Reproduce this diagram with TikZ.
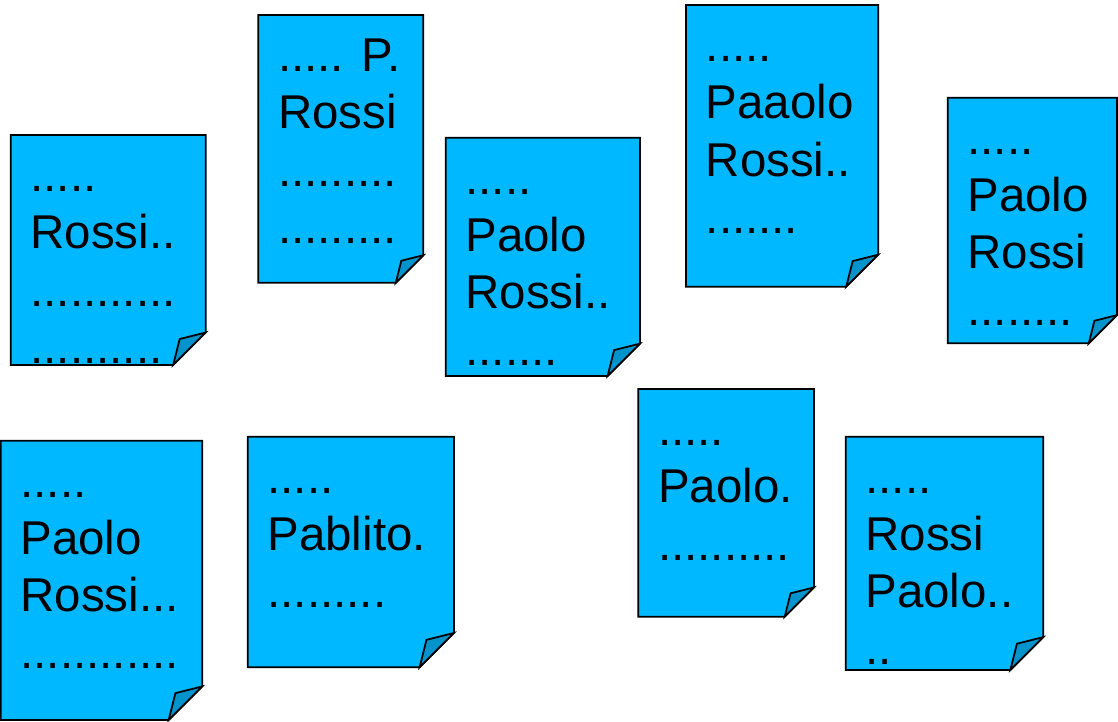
\documentclass[tikz,border=0pt]{standalone}
\usepackage{fontspec}
\setmainfont{Liberation Sans}
\definecolor{paperblue}{HTML}{00B8FF}
\definecolor{flapblue}{HTML}{0093CC}
% page with folded corner: name, left, top, right, bottom, text
\newcommand{\folddoc}[6]{%
  \pgfmathsetmacro{\docfold}{min(#4-#2,#5-#3)/6}%
  \pgfmathsetmacro{\docflapsz}{\docfold/5}%
  \draw[docpaper] (#2,#3) -- (#4,#3) -- (#4,#5-\docfold) -- (#4-\docfold,#5) -- (#2,#5) -- cycle;
  \draw[docflap] (#4-\docfold,#5) -- (#4-\docfold+\docflapsz,#5-\docfold+\docflapsz) -- (#4,#5-\docfold) -- cycle;
  \node[doctext] (#1) at (#2+19.5,#3+21.35) {\rule{0pt}{20pt}#6};
}
\begin{document}
\begin{tikzpicture}[x=0.02cm,y=-0.02cm,
  docpaper/.style={draw, line width=0.035cm, line join=miter, fill=paperblue},
  docflap/.style={draw, line width=0.035cm, fill=flapblue},
  doctext/.style={anchor=north west, inner sep=0pt, align=left,
    font=\fontsize{27pt}{32.5pt}\selectfont}]
\useasboundingbox (0,0) rectangle (1118,721);
\folddoc{a}{10.7}{135}{205.7}{365}{.....\\Rossi..\\...........\\..........}
\folddoc{b}{258.3}{15}{423.3}{282.7}{..... P.\\Rossi\\.........\\.........}
\folddoc{c}{445.7}{137.7}{640}{376}{.....\\Paolo\\Rossi..\\.......}
\folddoc{d}{686}{5}{878.3}{286.7}{.....\\Paaolo\\Rossi..\\.......}
\folddoc{e}{947.7}{97.7}{1117}{343.3}{.....\\Paolo\\Rossi\\........}
\folddoc{f}{0.7}{440.7}{202.3}{720}{.....\\Paolo\\Rossi...\\............}
\folddoc{g}{247.7}{436.7}{454}{667.3}{.....\\Pablito.\\.........}
\folddoc{h}{638.3}{389}{814}{616.7}{.....\\Paolo.\\..........}
\folddoc{i}{845.7}{436.7}{1043.3}{670}{.....\\Rossi\\Paolo..\\..}
\end{tikzpicture}
\end{document}
